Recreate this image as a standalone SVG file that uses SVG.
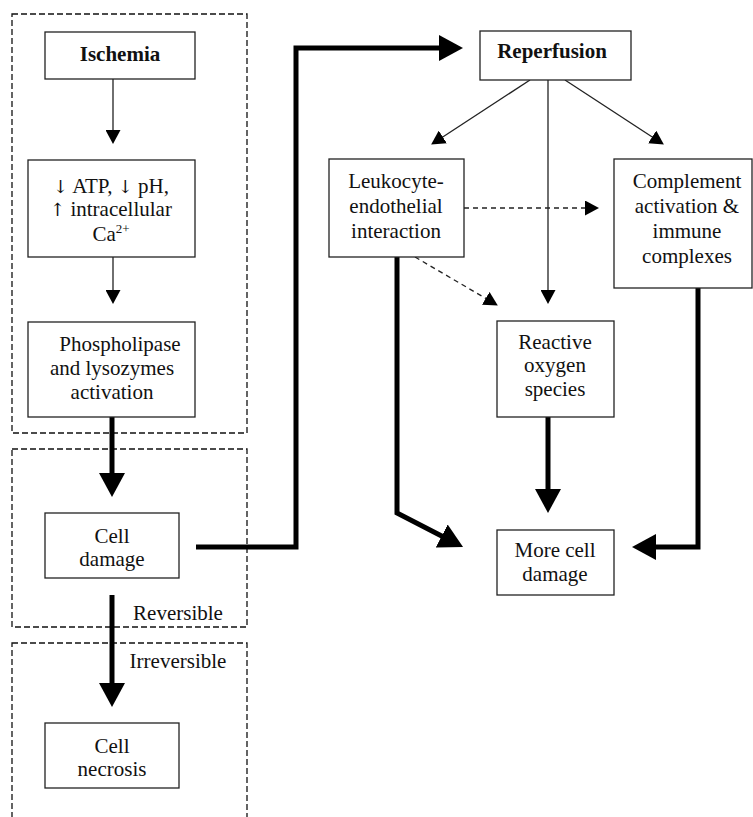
<svg xmlns="http://www.w3.org/2000/svg" width="753" height="817" viewBox="0 0 753 817">
<style>
.bg{fill:#fff}
.box{fill:#fff;stroke:#222;stroke-width:1.3}
.grp{fill:none;stroke:#111;stroke-width:1.3;stroke-dasharray:6,3}
text{font-family:"Liberation Serif","Times New Roman",serif;font-size:21px;fill:#111;text-anchor:middle}
.ar{font-family:"DejaVu Serif","DejaVu Sans",serif;font-size:18px;fill:#111}
.b{font-weight:bold}
.thin{fill:none;stroke:#222;stroke-width:1.3}
.dash{fill:none;stroke:#222;stroke-width:1.3;stroke-dasharray:5,4}
.thick{fill:none;stroke:#000;stroke-width:5;stroke-linejoin:miter}
</style>
<defs>
<marker id="ah" markerUnits="userSpaceOnUse" markerWidth="14" markerHeight="15" viewBox="0 0 14 15" refX="1" refY="7.5" orient="auto"><path d="M0,0 L14,7.5 L0,15 z" fill="#000"/></marker>
<marker id="AH" markerUnits="userSpaceOnUse" markerWidth="24" markerHeight="26" viewBox="0 0 24 26" refX="1" refY="13" orient="auto"><path d="M0,0 L24,13 L0,26 z" fill="#000"/></marker>
</defs>
<rect class="bg" x="0" y="0" width="753" height="817"/>
<g id="groups">
<rect class="grp" x="12" y="14" width="235" height="419"/>
<rect class="grp" x="12" y="449" width="235" height="178"/>
<rect class="grp" x="12" y="643" width="235" height="190"/>
</g>
<g id="connectors">
<line class="thin" x1="113" y1="79" x2="113" y2="131" marker-end="url(#ah)"/>
<line class="thin" x1="113" y1="257" x2="113" y2="291" marker-end="url(#ah)"/>
<line class="thick" x1="112" y1="417" x2="112" y2="474" marker-end="url(#AH)"/>
<line class="thick" x1="112" y1="595" x2="112" y2="684" marker-end="url(#AH)"/>
<path class="thick" d="M196,547 H296 V48 H440" marker-end="url(#AH)"/>
<line class="thin" x1="530" y1="80" x2="442" y2="137.5" marker-end="url(#ah)"/>
<line class="thin" x1="565" y1="80" x2="653" y2="137.5" marker-end="url(#ah)"/>
<line class="thin" x1="548" y1="80" x2="548" y2="291" marker-end="url(#ah)"/>
<line class="dash" x1="464" y1="208" x2="586" y2="208" marker-end="url(#ah)"/>
<line class="dash" x1="415" y1="257" x2="486.6" y2="298.9" marker-end="url(#ah)"/>
<path class="thick" d="M397,257 V513 L442.6,536.5" marker-end="url(#AH)"/>
<line class="thick" x1="548" y1="417" x2="548" y2="490" marker-end="url(#AH)"/>
<path class="thick" d="M698,288 V547 H655" marker-end="url(#AH)"/>
</g>
<g id="ischemia">
<rect class="box" x="45" y="32" width="150" height="47"/>
<text class="b" x="120" y="61">Ischemia</text>
</g>
<g id="atp">
<rect class="box" x="28" y="160" width="167" height="97"/>
<text x="111" y="193"><tspan class="ar">↓&#xFE0E;</tspan> ATP, <tspan class="ar">↓&#xFE0E;</tspan> pH,</text>
<text x="111" y="216"><tspan class="ar">↑&#xFE0E;</tspan> intracellular</text>
<text x="111" y="241">Ca<tspan font-size="13" dy="-8">2+</tspan></text>
</g>
<g id="phospholipase">
<rect class="box" x="28" y="322" width="167" height="95"/>
<text x="120" y="351">Phospholipase</text>
<text x="112" y="375">and lysozymes</text>
<text x="112" y="399">activation</text>
</g>
<g id="cell-damage">
<rect class="box" x="45" y="513" width="134" height="65"/>
<text x="112" y="543">Cell</text>
<text x="112" y="566">damage</text>
</g>
<text x="178" y="620">Reversible</text>
<text x="178" y="668">Irreversible</text>
<g id="cell-necrosis">
<rect class="box" x="45" y="723" width="134" height="65"/>
<text x="112" y="753">Cell</text>
<text x="112" y="776">necrosis</text>
</g>
<g id="reperfusion">
<rect class="box" x="480" y="31" width="151" height="49"/>
<text class="b" x="552" y="58">Reperfusion</text>
</g>
<g id="leukocyte">
<rect class="box" x="329" y="159" width="135" height="98"/>
<text x="396" y="188">Leukocyte-</text>
<text x="396" y="213">endothelial</text>
<text x="396" y="238">interaction</text>
</g>
<g id="complement">
<rect class="box" x="614" y="159" width="138" height="129"/>
<text x="687" y="188">Complement</text>
<text x="687" y="213">activation &amp;</text>
<text x="687" y="238">immune</text>
<text x="687" y="263">complexes</text>
</g>
<g id="ros">
<rect class="box" x="497" y="321" width="117" height="96"/>
<text x="555" y="349">Reactive</text>
<text x="555" y="372">oxygen</text>
<text x="555" y="396">species</text>
</g>
<g id="more-damage">
<rect class="box" x="497" y="530" width="117" height="65"/>
<text x="555" y="557">More cell</text>
<text x="555" y="581">damage</text>
</g>
</svg>
